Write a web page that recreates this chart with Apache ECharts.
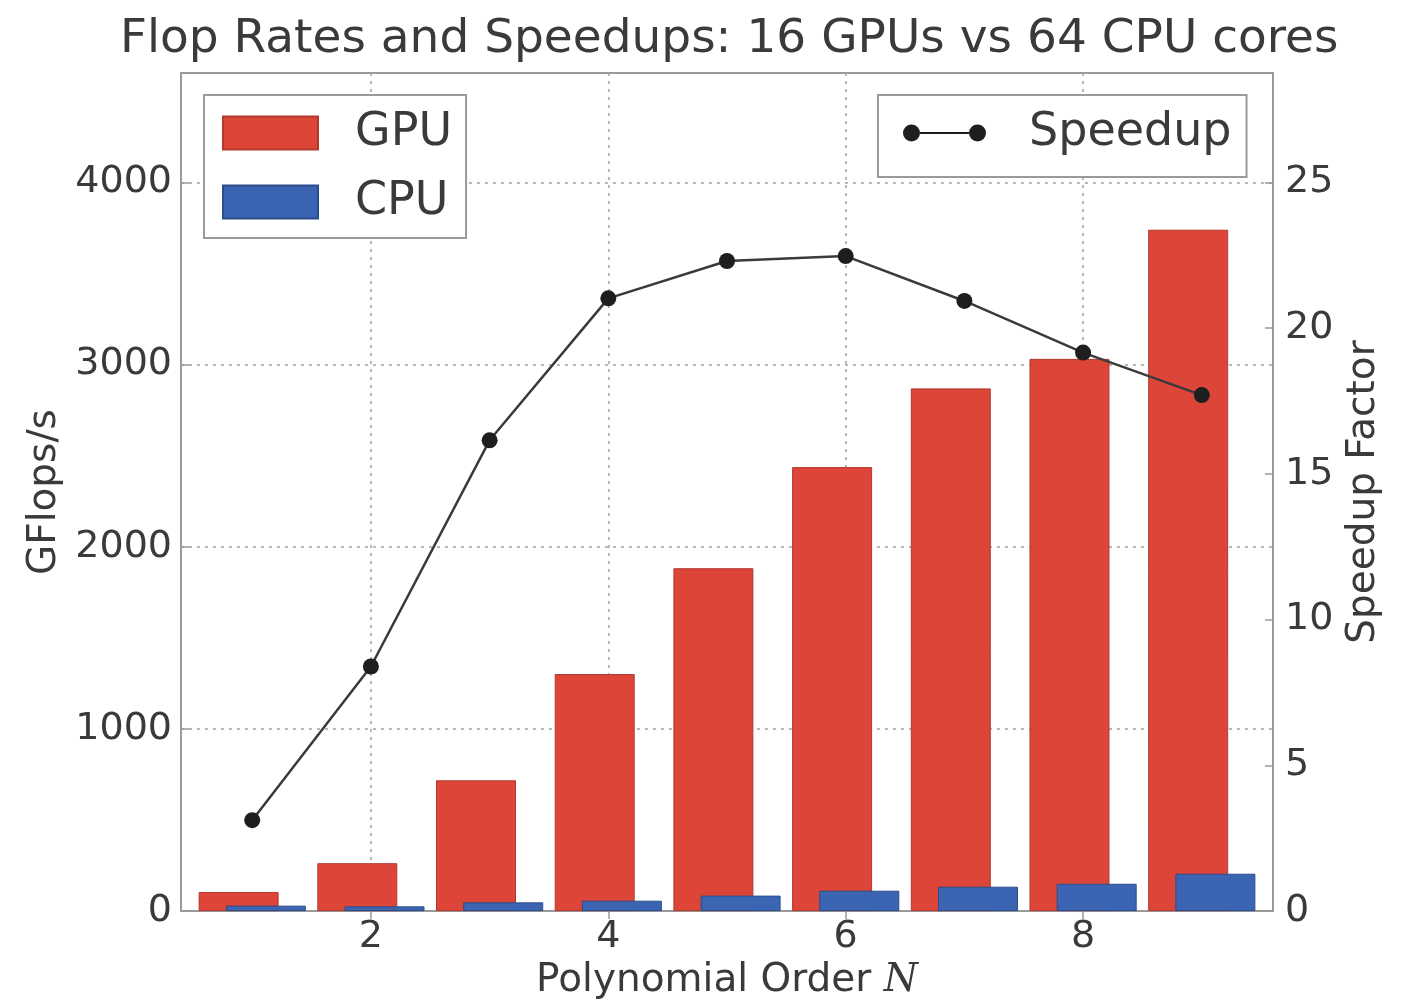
<!DOCTYPE html>
<html>
<head>
<meta charset="utf-8">
<script src="https://cdn.jsdelivr.net/npm/echarts@6/dist/echarts.min.js"></script>
<style>
html,body{margin:0;padding:0;background:#fff;overflow:hidden;}
#chart{width:1403px;height:1005px;}
</style>
</head>
<body>
<div id="chart"></div>
<script>
const orders = [1, 2, 3, 4, 5, 6, 7, 8, 9];
const gpuGflops = [105, 263, 718, 1301, 1882, 2437, 2869, 3031, 3740];
const cpuGflops = [30, 26, 48, 57, 85, 112, 134, 150, 205];
const speedup = [3.12, 8.39, 16.15, 21.02, 22.3, 22.47, 20.93, 19.16, 17.7];
const xTicks = [2, 4, 6, 8];
const leftTicks = [0, 1000, 2000, 3000, 4000];
const rightTicks = [0, 5, 10, 15, 20, 25];

const FONT = 'DejaVu Sans';
const TXT = '#3a3a3a';
const AX = '#9a9a9a';

const chart = echarts.init(document.getElementById('chart'), null, {renderer: 'canvas'});

const gridLine = {show: true, lineStyle: {color: '#a0a0a0', width: 1.5, type: [3, 5]}};
const plain = v => String(v);

const option = {
  backgroundColor: '#ffffff',
  animation: false,
  textStyle: {fontFamily: FONT, color: TXT},
  title: {
    text: 'Flop Rates and Speedups: 16 GPUs vs 64 CPU cores',
    left: 120, top: 16, padding: 0,
    textStyle: {fontFamily: FONT, fontSize: 47, fontWeight: 'normal', color: TXT}
  },
  grid: {left: 181, top: 73, width: 1092, height: 844, show: true, borderColor: AX, borderWidth: 2, containLabel: false},
  legend: [
    {
      data: ['GPU', 'CPU'],
      orient: 'vertical',
      left: 204, top: 95,
      itemWidth: 95, itemHeight: 33, itemGap: 23,
      padding: [15, 14, 13, 18],
      borderColor: AX, borderWidth: 2, backgroundColor: '#ffffff',
      icon: 'rect',
      textStyle: {fontFamily: FONT, fontSize: 46, color: TXT, padding: [0, 0, 0, 32]},
      selectedMode: false
    },
    {
      data: ['Speedup'],
      orient: 'vertical',
      left: 878, top: 95,
      itemWidth: 83, itemHeight: 17,
      padding: [15, 15, 21, 25],
      borderColor: AX, borderWidth: 2, backgroundColor: '#ffffff',
      icon: 'path://M0,8.5 A8.5,8.5 0 1,1 17,8.5 A8.5,8.5 0 1,1 0,8.5 Z M66,8.5 A8.5,8.5 0 1,1 83,8.5 A8.5,8.5 0 1,1 66,8.5 Z M17,7.6 L66,7.6 L66,9.4 L17,9.4 Z',
      textStyle: {fontFamily: FONT, fontSize: 46, color: TXT, padding: [0, 0, 0, 38]},
      selectedMode: false
    }
  ],
  xAxis: [
    {
      type: 'value', min: 0.4, max: 9.6, position: 'bottom',
      name: 'Polynomial Order {i|N}',
      nameLocation: 'middle', nameGap: 45,
      nameTextStyle: {fontFamily: FONT, fontSize: 39, color: TXT,
        rich: {i: {fontFamily: 'DejaVu Serif', fontStyle: 'italic', fontSize: 39, color: TXT}}},
      axisLine: {show: true, lineStyle: {color: AX, width: 2}},
      axisTick: {show: true, inside: true, length: 8, customValues: xTicks, lineStyle: {color: AX, width: 1.5}},
      axisLabel: {show: true, customValues: xTicks, formatter: plain, fontFamily: FONT, fontSize: 38, color: TXT, margin: 7},
      splitLine: gridLine
    },
    {
      type: 'value', min: 0.4, max: 9.6, position: 'top',
      axisLine: {show: true, lineStyle: {color: AX, width: 2}},
      axisTick: {show: true, inside: true, length: 8, customValues: xTicks, lineStyle: {color: AX, width: 1.5}},
      axisLabel: {show: false},
      splitLine: {show: false}
    }
  ],
  yAxis: [
    {
      type: 'value', min: 0, max: 4600, position: 'left',
      name: 'GFlops/s', nameLocation: 'middle', nameRotate: 90, nameGap: 104,
      nameTextStyle: {fontFamily: FONT, fontSize: 39, color: TXT},
      axisLine: {show: true, lineStyle: {color: AX, width: 2}},
      axisTick: {show: true, inside: true, length: 8, customValues: leftTicks, lineStyle: {color: AX, width: 1.5}},
      axisLabel: {customValues: leftTicks, formatter: plain, fontFamily: FONT, fontSize: 38, color: TXT, margin: 9},
      splitLine: gridLine
    },
    {
      type: 'value', min: 0, max: 28.75, position: 'right',
      name: 'Speedup Factor', nameLocation: 'middle', nameRotate: 90, nameGap: 56,
      nameTextStyle: {fontFamily: FONT, fontSize: 39, color: TXT},
      axisLine: {show: true, lineStyle: {color: AX, width: 2}},
      axisTick: {show: true, inside: true, length: 8, customValues: rightTicks, lineStyle: {color: AX, width: 1.5}},
      axisLabel: {customValues: rightTicks, formatter: plain, fontFamily: FONT, fontSize: 38, color: TXT, margin: 12},
      splitLine: {show: false}
    }
  ],
  series: [
    {
      name: 'GPU', type: 'bar', xAxisIndex: 0, yAxisIndex: 0,
      barWidth: 80, barGap: '-66%',
      itemStyle: {color: '#dc4537', borderColor: '#b23a2f', borderWidth: 1},
      data: orders.map((n, i) => [n, gpuGflops[i]]),
      z: 2
    },
    {
      name: 'CPU', type: 'bar', xAxisIndex: 0, yAxisIndex: 0,
      barWidth: 80, barGap: '-66%',
      itemStyle: {color: '#3b64b2', borderColor: '#2b4d8c', borderWidth: 1},
      data: orders.map((n, i) => [n, cpuGflops[i]]),
      z: 3
    },
    {
      name: 'Speedup', type: 'line', xAxisIndex: 0, yAxisIndex: 1,
      symbol: 'circle', symbolSize: 16,
      itemStyle: {color: '#1e1e1e'},
      lineStyle: {color: '#3a3a3a', width: 2.5},
      data: orders.map((n, i) => [n, speedup[i]]),
      z: 5
    }
  ]
};
chart.setOption(option);
</script>
</body>
</html>
